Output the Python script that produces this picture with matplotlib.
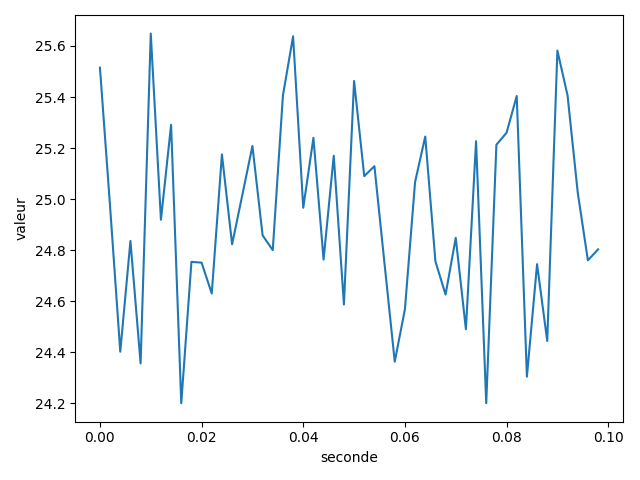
import numpy as np
import matplotlib.pyplot as plt

# time axis (s) and measured values
seconde = np.arange(50) * 0.002
valeur = [25.515, 24.97, 24.402, 24.836, 24.356, 25.649, 24.919, 25.291, 24.200, 24.754,
          24.751, 24.630, 25.175, 24.823, 25.015, 25.208, 24.858, 24.800, 25.406, 25.638,
          24.966, 25.240, 24.763, 25.170, 24.587, 25.463, 25.090, 25.129, 24.745, 24.363,
          24.568, 25.067, 25.245, 24.756, 24.626, 24.848, 24.490, 25.227, 24.200, 25.213,
          25.260, 25.404, 24.304, 24.745, 24.444, 25.582, 25.406, 25.026, 24.760, 24.803]

plt.figure(figsize=(6.4, 4.8))
plt.plot(seconde, valeur)
plt.xlabel("seconde")
plt.ylabel("valeur")
plt.tight_layout()
plt.savefig("out.png", dpi=100)
